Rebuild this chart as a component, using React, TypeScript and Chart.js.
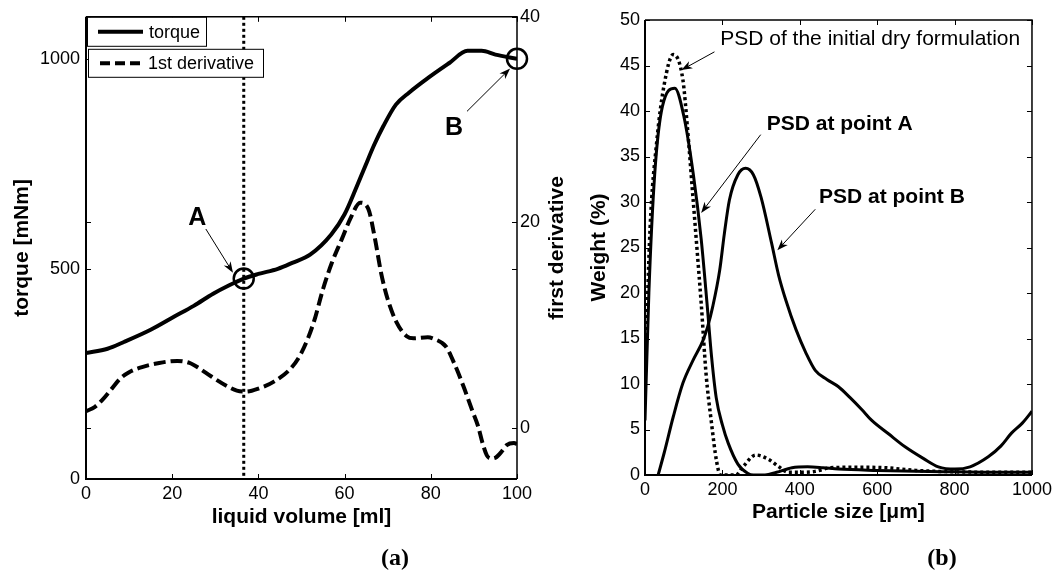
import React, { useEffect, useRef } from "react";
import { Chart, registerables } from "chart.js";

Chart.register(...registerables);

// ---------- Panel (a): torque and first derivative vs liquid volume ----------
const volumeTicks = [0, 20, 40, 60, 80, 100];
const torqueTicks = [0, 500, 1000];
const derivTicks = [0, 20, 40];

const torqueVolume = [0, 5, 8.8, 15, 20.4, 25, 29.5, 33, 36.6, 40, 44.5, 48, 52, 56.9, 60, 62.7, 64.8, 66.9, 69, 71.9, 75, 79.3, 84.3, 88.5, 91.8, 95, 100];
const torqueValues = [300, 310, 326, 355, 386, 412, 441, 460, 477, 488, 500, 515, 534, 582, 630, 693, 745, 796, 840, 891, 920, 954, 990, 1019, 1019, 1010, 1000];

const derivVolume = [0, 2, 3.8, 6, 8, 10, 13, 17, 21.2, 24, 26.2, 29, 32.9, 35, 37, 40, 43.7, 47.8, 50, 52.8, 55, 57, 59.4, 61.5, 63.6, 65.5, 67, 68.5, 70, 72, 74.4, 76, 79.3, 81, 83.5, 85.5, 87.6, 89.5, 91, 92, 93, 94, 95.1, 96.5, 97.6, 99.3, 100];
const derivValues = [1.6, 2.0, 2.7, 3.8, 4.8, 5.4, 5.9, 6.3, 6.5, 6.3, 5.8, 5.0, 4.0, 3.6, 3.5, 3.8, 4.5, 5.9, 7.3, 10.2, 13.5, 16, 18.4, 20.5, 21.9, 21.3, 18.5, 15, 12.5, 10.3, 8.9, 8.7, 8.8, 8.6, 7.9, 6.2, 4.0, 1.8, 0.1, -1.5, -2.7, -3.0, -2.9, -2.3, -1.7, -1.5, -1.6];

// marked points A and B (volume, torque)
const pointAVolume = 36.6;
const pointATorque = 477;
const pointBVolume = 100;
const pointBTorque = 1000;

// ---------- Panel (b): particle size distributions ----------
const sizeTicks = [0, 200, 400, 600, 800, 1000];
const weightTicks = [0, 5, 10, 15, 20, 25, 30, 35, 40, 45, 50];

const sizeInitial = [0, 13, 30, 50, 73, 98, 110, 123, 135, 145, 158, 171, 185, 195, 235, 255, 286, 320, 346, 370, 400, 440, 480, 550, 620, 700, 800, 900, 1000];
const weightInitial = [10, 27, 36.5, 43, 46.2, 43.4, 38, 31, 24.5, 19, 11, 6, 1.5, 0, 0, 1, 2.2, 1.7, 0.9, 0.3, 0.3, 0.4, 0.8, 0.85, 0.8, 0.5, 0.35, 0.3, 0.3];

const sizeA = [0, 10, 25, 45, 77, 100, 125, 145, 160, 172, 184, 200, 215, 240, 265, 280, 310, 340, 380, 420, 460, 500, 600, 700, 800, 900, 1000];
const weightA = [6, 20, 33, 40.5, 42.5, 39.5, 33, 26, 19, 13, 8.5, 5.5, 3.5, 1.2, 0.2, 0, 0, 0.3, 0.8, 0.9, 0.8, 0.65, 0.5, 0.4, 0.35, 0.3, 0.3];

const sizeB = [34, 50, 73, 98, 124, 150, 162, 175, 193, 205, 218, 240, 260, 280, 300, 327, 345, 364, 390, 416, 440, 470, 500, 530, 560, 586, 630, 672, 720, 758, 801, 840, 887, 920, 947, 975, 1000];
const weightB = [0, 2.5, 6.4, 10.1, 12.6, 14.8, 16.3, 18.5, 22.5, 26.5, 30.2, 33, 33.7, 33, 30.5, 25.5, 22, 19.2, 16, 13.4, 11.5, 10.5, 9.7, 8.5, 7.2, 6.0, 4.5, 3.1, 1.8, 0.9, 0.65, 0.9, 2.0, 3.2, 4.6, 5.7, 7.0];

const FONT = "'Liberation Sans', Arial, Helvetica, sans-serif";
const BLACK = "#000";

const toXY = (xs: number[], ys: number[]) => xs.map((x, i) => ({ x, y: ys[i] }));

function drawArrow(ctx: CanvasRenderingContext2D, x1: number, y1: number, x2: number, y2: number) {
  const ang = Math.atan2(y2 - y1, x2 - x1);
  const L = 11;
  const W = 4;
  const c = Math.cos(ang);
  const s = Math.sin(ang);
  ctx.save();
  ctx.strokeStyle = BLACK;
  ctx.fillStyle = BLACK;
  ctx.lineWidth = 1;
  ctx.setLineDash([]);
  ctx.beginPath();
  ctx.moveTo(x1, y1);
  ctx.lineTo(x2 - c * L * 0.6, y2 - s * L * 0.6);
  ctx.stroke();
  const bx = x2 - c * L;
  const by = y2 - s * L;
  const nx = -s;
  const ny = c;
  ctx.beginPath();
  ctx.moveTo(x2, y2);
  ctx.lineTo(bx + nx * W, by + ny * W);
  ctx.lineTo(x2 - c * L * 0.7, y2 - s * L * 0.7);
  ctx.lineTo(bx - nx * W, by - ny * W);
  ctx.closePath();
  ctx.fill();
  ctx.restore();
}

function drawFrame(chart: any, xId: string, leftId: string, rightId: string | null) {
  const { ctx, chartArea } = chart;
  const { left, right, top, bottom } = chartArea;
  const TL = 5;
  ctx.save();
  ctx.strokeStyle = BLACK;
  ctx.setLineDash([]);
  ctx.lineWidth = 1;
  const xs = chart.scales[xId];
  xs.ticks.forEach((t: any) => {
    const p = Math.round(xs.getPixelForValue(t.value)) + 0.5;
    ctx.beginPath();
    ctx.moveTo(p, bottom);
    ctx.lineTo(p, bottom - TL);
    ctx.moveTo(p, top);
    ctx.lineTo(p, top + TL);
    ctx.stroke();
  });
  const ys = [chart.scales[leftId]];
  if (rightId) ys.push(chart.scales[rightId]);
  ys.forEach((sc: any) => {
    sc.ticks.forEach((t: any) => {
      const p = Math.round(sc.getPixelForValue(t.value)) + 0.5;
      ctx.beginPath();
      ctx.moveTo(left, p);
      ctx.lineTo(left + TL, p);
      ctx.moveTo(right, p);
      ctx.lineTo(right - TL, p);
      ctx.stroke();
    });
  });
  ctx.lineWidth = 2;
  ctx.beginPath();
  ctx.moveTo(left, top);
  ctx.lineTo(left, bottom);
  ctx.lineTo(right, bottom);
  ctx.stroke();
  ctx.lineWidth = 1.5;
  ctx.beginPath();
  ctx.moveTo(left, top);
  ctx.lineTo(right, top);
  ctx.lineTo(right, bottom);
  ctx.stroke();
  ctx.restore();
}

const panelAPlugin = {
  id: "panelA",
  beforeDatasetsDraw(chart: any) {
    const { ctx, chartArea, scales } = chart;
    const px = scales.x.getPixelForValue(pointAVolume);
    ctx.save();
    ctx.strokeStyle = BLACK;
    ctx.lineWidth = 3;
    ctx.setLineDash([3, 3]);
    ctx.beginPath();
    ctx.moveTo(px, chartArea.top);
    ctx.lineTo(px, chartArea.bottom);
    ctx.stroke();
    ctx.restore();
  },
  afterDatasetsDraw(chart: any) {
    const { ctx, scales } = chart;
    const X = (v: number) => scales.x.getPixelForValue(v);
    const Y = (v: number) => scales.y.getPixelForValue(v);
    ctx.save();
    ctx.strokeStyle = BLACK;
    ctx.lineWidth = 2.5;
    ctx.setLineDash([]);
    [[pointAVolume, pointATorque], [pointBVolume, pointBTorque]].forEach(([v, t]) => {
      ctx.beginPath();
      ctx.arc(X(v), Y(t), 10, 0, Math.PI * 2);
      ctx.stroke();
    });
    ctx.fillStyle = BLACK;
    ctx.font = `bold 25px ${FONT}`;
    ctx.textAlign = "center";
    ctx.textBaseline = "middle";
    ctx.fillText("A", X(25.8), Y(621));
    ctx.fillText("B", X(85.4), Y(834));
    ctx.restore();
    drawArrow(ctx, X(27.8), Y(595), X(34.1), Y(491));
    drawArrow(ctx, X(88.4), Y(875), X(98.4), Y(977));
  },
  afterDraw(chart: any) {
    const { ctx, chartArea } = chart;
    drawFrame(chart, "x", "y", "y1");
    const { left, top, bottom } = chartArea;
    ctx.save();
    // legend boxes
    ctx.fillStyle = "#fff";
    ctx.strokeStyle = BLACK;
    ctx.lineWidth = 1;
    ctx.setLineDash([]);
    const b1 = { x: left + 1.5, y: top + 0.5, w: 119, h: 29 };
    const b2 = { x: left + 2.5, y: top + 32.5, w: 175, h: 28 };
    [b1, b2].forEach((b) => {
      ctx.fillRect(b.x, b.y, b.w, b.h);
      ctx.strokeRect(b.x, b.y, b.w, b.h);
    });
    ctx.fillStyle = BLACK;
    ctx.font = `18px ${FONT}`;
    ctx.textBaseline = "middle";
    ctx.textAlign = "left";
    ctx.lineWidth = 4;
    ctx.beginPath();
    ctx.moveTo(left + 12, b1.y + b1.h / 2);
    ctx.lineTo(left + 57, b1.y + b1.h / 2);
    ctx.stroke();
    ctx.fillText("torque", left + 63, b1.y + b1.h / 2 + 1);
    ctx.setLineDash([10, 5]);
    ctx.beginPath();
    ctx.moveTo(left + 14, b2.y + b2.h / 2);
    ctx.lineTo(left + 57, b2.y + b2.h / 2);
    ctx.stroke();
    ctx.setLineDash([]);
    ctx.fillText("1st derivative", left + 62, b2.y + b2.h / 2 + 1);
    // right axis title
    ctx.font = `bold 21px ${FONT}`;
    ctx.textAlign = "center";
    ctx.translate(chart.width - 23, (top + bottom) / 2);
    ctx.rotate(-Math.PI / 2);
    ctx.fillText("first derivative", 0, 0);
    ctx.restore();
  },
};

const panelBPlugin = {
  id: "panelB",
  afterDatasetsDraw(chart: any) {
    const { ctx, scales } = chart;
    const X = (v: number) => scales.x.getPixelForValue(v);
    const Y = (v: number) => scales.y.getPixelForValue(v);
    ctx.save();
    ctx.fillStyle = BLACK;
    ctx.textAlign = "center";
    ctx.textBaseline = "middle";
    ctx.font = `21px ${FONT}`;
    ctx.fillText("PSD of the initial dry formulation", X(582), Y(47.9));
    ctx.font = `bold 21px ${FONT}`;
    ctx.fillText("PSD at point A", X(503), Y(38.5));
    ctx.fillText("PSD at point B", X(638), Y(30.5));
    ctx.restore();
    drawArrow(ctx, X(179.5), Y(46.5), X(94), Y(44.5));
    drawArrow(ctx, X(299), Y(37.4), X(145), Y(28.8));
    drawArrow(ctx, X(440), Y(29.2), X(342), Y(24.7));
  },
  afterDraw(chart: any) {
    drawFrame(chart, "x", "y", null);
  },
};

const tickFont = { size: 18, family: FONT };
const titleFont = { size: 21, weight: "bold" as const, family: FONT };
const noGrid = { display: false, drawTicks: false };

function makeTicks(values: number[]) {
  return (s: any) => {
    s.ticks = values.map((v) => ({ value: v }));
  };
}

export default function App() {
  const refA = useRef<HTMLCanvasElement>(null);
  const refB = useRef<HTMLCanvasElement>(null);

  useEffect(() => {
    Chart.defaults.font.family = FONT;
    Chart.defaults.color = BLACK;

    const lineStyle = {
      borderColor: BLACK,
      pointRadius: 0,
      fill: false,
      cubicInterpolationMode: "monotone" as const,
    };

    const chartA = new Chart(refA.current!, {
      type: "line",
      data: {
        datasets: [
          { ...lineStyle, label: "torque", data: toXY(torqueVolume, torqueValues), borderWidth: 4, yAxisID: "y" },
          { ...lineStyle, label: "1st derivative", data: toXY(derivVolume, derivValues), borderWidth: 4, borderDash: [12, 5], yAxisID: "y1" },
        ],
      },
      options: {
        animation: false,
        responsive: false,
        events: [],
        layout: { padding: { top: 14, left: 0, right: 0, bottom: 0 } },
        plugins: { legend: { display: false }, tooltip: { enabled: false } },
        scales: {
          x: {
            type: "linear",
            min: 0,
            max: 100,
            afterFit: (s: any) => { s.height = 91; },
            afterBuildTicks: makeTicks(volumeTicks),
            grid: noGrid,
            border: { display: false },
            ticks: { padding: 4, font: tickFont, color: BLACK, maxRotation: 0, callback: (v: any) => String(v) },
            title: { display: true, text: "liquid volume [ml]", font: titleFont, color: BLACK, padding: { top: 0, bottom: 40 } },
          },
          y: {
            type: "linear",
            position: "left",
            min: 0,
            max: 1100,
            afterFit: (s: any) => { s.width = 86; },
            afterBuildTicks: makeTicks(torqueTicks),
            grid: noGrid,
            border: { display: false },
            ticks: { padding: 6, font: tickFont, color: BLACK, callback: (v: any) => String(v) },
            title: { display: true, text: "torque [mNm]", font: titleFont, color: BLACK, padding: { top: 10, bottom: 0 } },
          },
          y1: {
            type: "linear",
            position: "right",
            min: -5,
            max: 40,
            afterFit: (s: any) => { s.width = 63; },
            afterBuildTicks: makeTicks(derivTicks),
            grid: noGrid,
            border: { display: false },
            ticks: { padding: 3, font: tickFont, color: BLACK, callback: (v: any) => String(v) },
          },
        },
      } as any,
      plugins: [panelAPlugin],
    });

    const chartB = new Chart(refB.current!, {
      type: "line",
      data: {
        datasets: [
          { ...lineStyle, label: "PSD of the initial dry formulation", data: toXY(sizeInitial, weightInitial), borderWidth: 3.5, borderDash: [3, 3] },
          { ...lineStyle, label: "PSD at point A", data: toXY(sizeA, weightA), borderWidth: 3 },
          { ...lineStyle, label: "PSD at point B", data: toXY(sizeB, weightB), borderWidth: 3 },
        ],
      },
      options: {
        animation: false,
        responsive: false,
        events: [],
        layout: { padding: { top: 20, left: 0, right: 21, bottom: 0 } },
        plugins: { legend: { display: false }, tooltip: { enabled: false } },
        scales: {
          x: {
            type: "linear",
            min: 0,
            max: 1000,
            afterFit: (s: any) => { s.height = 95; },
            afterBuildTicks: makeTicks(sizeTicks),
            grid: noGrid,
            border: { display: false },
            ticks: { padding: 4, font: tickFont, color: BLACK, maxRotation: 0, callback: (v: any) => String(v) },
            title: { display: true, text: "Particle size [\u03bcm]", font: titleFont, color: BLACK, padding: { top: 0, bottom: 45 } },
          },
          y: {
            type: "linear",
            position: "left",
            min: 0,
            max: 50,
            afterFit: (s: any) => { s.width = 65; },
            afterBuildTicks: makeTicks(weightTicks),
            grid: noGrid,
            border: { display: false },
            ticks: { padding: 5, font: tickFont, color: BLACK, callback: (v: any) => String(v) },
            title: { display: true, text: "Weight (%)", font: titleFont, color: BLACK, padding: { top: 7, bottom: 0 } },
          },
        },
      } as any,
      plugins: [panelBPlugin],
    });

    return () => {
      chartA.destroy();
      chartB.destroy();
    };
  }, []);

  const caption: React.CSSProperties = {
    position: "absolute",
    top: 543,
    width: 100,
    textAlign: "center",
    font: "bold 24px 'Liberation Serif', 'Times New Roman', serif",
    lineHeight: "28px",
    color: BLACK,
  };

  return (
    <div style={{ position: "absolute", left: 0, top: 0, width: 1056, height: 570, background: "#fff", overflow: "hidden" }}>
      <canvas ref={refA} width={580} height={570} style={{ position: "absolute", left: 0, top: 0, width: 580, height: 570 }} />
      <canvas ref={refB} width={476} height={570} style={{ position: "absolute", left: 580, top: 0, width: 476, height: 570 }} />
      <div style={{ ...caption, left: 345 }}>(a)</div>
      <div style={{ ...caption, left: 892 }}>(b)</div>
    </div>
  );
}
